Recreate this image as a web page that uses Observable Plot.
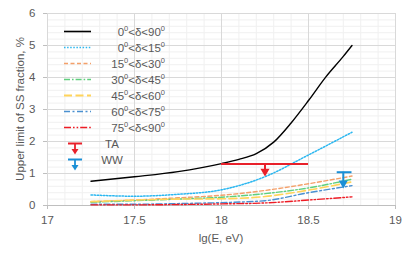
<!DOCTYPE html>
<html><head><meta charset="utf-8">
<script src="https://cdn.jsdelivr.net/npm/d3@7"></script>
<script src="https://cdn.jsdelivr.net/npm/@observablehq/plot@0.6"></script>
<style>
body{margin:0;background:#fff;font-family:"Liberation Sans",Arial,sans-serif}
#chart{width:415px;height:258px}
</style>
</head><body><div id="chart"></div>
<script>
// ---- data ----
const lgETotal = [17.25, 17.5, 17.75, 18.0, 18.1, 18.2, 18.3, 18.4, 18.5, 18.6, 18.7, 18.75];
const total    = [0.76, 0.90, 1.06, 1.31, 1.44, 1.62, 1.98, 2.58, 3.28, 4.02, 4.66, 5.00];
const lgE      = [17.25, 17.5, 17.75, 18.0, 18.25, 18.5, 18.75];
const dec0_15  = [0.33, 0.29, 0.35, 0.49, 0.90, 1.58, 2.29];
const dec15_30 = [0.12, 0.17, 0.24, 0.32, 0.47, 0.68, 0.92];
const dec30_45 = [0.10, 0.15, 0.20, 0.26, 0.37, 0.55, 0.82];
const dec45_60 = [0.12, 0.17, 0.20, 0.21, 0.28, 0.48, 0.74];
const dec60_75 = [0.04, 0.04, 0.06, 0.09, 0.15, 0.40, 0.62];
const dec75_90 = [0.02, 0.02, 0.03, 0.05, 0.08, 0.17, 0.27];
const legendLow  = ["0", "0", "15", "30", "45", "60", "75"];
const legendHigh = ["90", "15", "30", "45", "60", "75", "90"];
const limitNames = ["TA", "WW"];
const taRange = [18.0, 18.5];  const taLimit = 1.30; const taX = 18.25; const taTip = 0.99;
const wwRange = [18.665, 18.75]; const wwLimit = 1.04; const wwX = 18.70; const wwTip = 0.62;
const xTicks = [17, 17.5, 18, 18.5, 19];
const yTicks = [0, 1, 2, 3, 4, 5, 6];

// ---- styles ----
const styles = [
  {color:"#000000", dash:null,            w:1.4},
  {color:"#2bb7f0", dash:"1.5,1.6",       w:1.5},
  {color:"#f4a06a", dash:"4,2.5",         w:1.4},
  {color:"#5fcf7e", dash:"6,2,1.6,2",     w:1.4},
  {color:"#ffd45a", dash:"8,3.5",         w:1.6},
  {color:"#4a90d0", dash:"6,2.5,2,2.5",   w:1.4},
  {color:"#ee1c25", dash:"7,2,1.6,2,1.6,2", w:1.4}
];
const ys = [total, dec0_15, dec15_30, dec30_45, dec45_60, dec60_75, dec75_90];
const xs = [lgETotal, lgE, lgE, lgE, lgE, lgE, lgE];
const taColor = "#e8202a", wwColor = "#1a8fd6";

const lineMarks = ys.map((yv, i) => Plot.line(
  xs[i].map((x, j) => ({x, y: yv[j]})),
  {x:"x", y:"y", stroke: styles[i].color, strokeWidth: styles[i].w,
   strokeDasharray: styles[i].dash || undefined, curve:"monotone-x"}));

function limitMarks(range, lim, ax, tip, color) {
  return [
    Plot.ruleY([{x1:range[0], x2:range[1], y:lim}], {x1:"x1", x2:"x2", y:"y", stroke:color, strokeWidth:2}),
    Plot.ruleX([{x:ax, y1:lim, y2:tip + 0.1}], {x:"x", y1:"y1", y2:"y2", stroke:color, strokeWidth:2}),
    Plot.dot([{x:ax, y:tip}], {x:"x", y:"y", symbol:"triangle", rotate:180, r:3.4, fill:color, stroke:"none", dy:-2.5})
  ];
}

const minorX = d3.range(17, 19.0001, 0.1).map(v => +v.toFixed(2));
const minorY = d3.range(0, 6.0001, 0.2).map(v => +v.toFixed(2));

const plot = Plot.plot({
  width: 415, height: 258,
  marginLeft: 47, marginRight: 20, marginTop: 13, marginBottom: 53,
  x: {domain:[17, 19]},
  y: {domain:[0, 6]},
  style: {fontFamily:"'Liberation Sans', Arial, sans-serif", fontSize:"11.5px", color:"#595959", background:"#fff"},
  marks: [
    Plot.gridX(minorX, {stroke:"#f0f0f0", strokeOpacity:1}),
    Plot.gridY(minorY, {stroke:"#f0f0f0", strokeOpacity:1}),
    Plot.gridX(xTicks, {stroke:"#d9d9d9", strokeOpacity:1}),
    Plot.gridY(yTicks, {stroke:"#d9d9d9", strokeOpacity:1}),
    Plot.ruleY([0], {stroke:"#bfbfbf"}),
    Plot.axisX(xTicks, {tickSize:4, tickPadding:6, tickFormat:d => String(d), label:null, stroke:"#bfbfbf", fill:"#595959"}),
    Plot.axisY(yTicks, {tickSize:4, tickPadding:8, tickFormat:d => String(d), label:null, stroke:"#bfbfbf", fill:"#595959"}),
    ...lineMarks,
    ...limitMarks(taRange, taLimit, taX, taTip, taColor),
    ...limitMarks(wwRange, wwLimit, wwX, wwTip, wwColor)
  ]
});
document.getElementById("chart").appendChild(plot);

// ---- axis titles & legend (overlay in pixel space) ----
const svg = d3.select(plot);
const font = "'Liberation Sans', Arial, sans-serif";
svg.append("text").attr("x", 221).attr("y", 242).attr("text-anchor","middle")
  .attr("font-family", font).attr("font-size", 11.5).attr("fill","#595959").text("lg(E, eV)");
svg.append("text").attr("transform","translate(24,109) rotate(-90)").attr("text-anchor","middle")
  .attr("font-family", font).attr("font-size", 11.5).attr("fill","#595959").text("Upper limit of SS fraction, %");

const lg = svg.append("g");
legendLow.forEach((lo, i) => {
  const y = 31.5 + i * 16;
  lg.append("line").attr("x1", 64).attr("x2", 91).attr("y1", y).attr("y2", y)
    .attr("stroke", styles[i].color).attr("stroke-width", styles[i].w + 0.2)
    .attr("stroke-dasharray", styles[i].dash);
  const t = lg.append("text").attr("x", 165).attr("y", y + 4).attr("text-anchor","end")
    .attr("font-family", font).attr("font-size", 11.5).attr("fill","#595959");
  t.append("tspan").text(lo);
  t.append("tspan").attr("font-size", 7.5).attr("dy", -4.5).text("0");
  t.append("tspan").attr("dy", 4.5).text("<δ<" + legendHigh[i]);
  t.append("tspan").attr("font-size", 7.5).attr("dy", -4.5).text("0");
});
[[taColor, limitNames[0]], [wwColor, limitNames[1]]].forEach(([c, name], k) => {
  const y = 143.5 + k * 16;
  lg.append("line").attr("x1", 68).attr("x2", 82).attr("y1", y).attr("y2", y).attr("stroke", c).attr("stroke-width", 2);
  lg.append("line").attr("x1", 75).attr("x2", 75).attr("y1", y).attr("y2", y + 6).attr("stroke", c).attr("stroke-width", 1.8);
  lg.append("path").attr("d", `M71.5,${y+5.5}L78.5,${y+5.5}L75,${y+11}Z`).attr("fill", c);
  lg.append("text").attr("x", 112).attr("y", y + 4).attr("font-family", font).attr("font-size", 11.5)
    .attr("fill","#595959").text(name);
});
</script>
</body></html>
